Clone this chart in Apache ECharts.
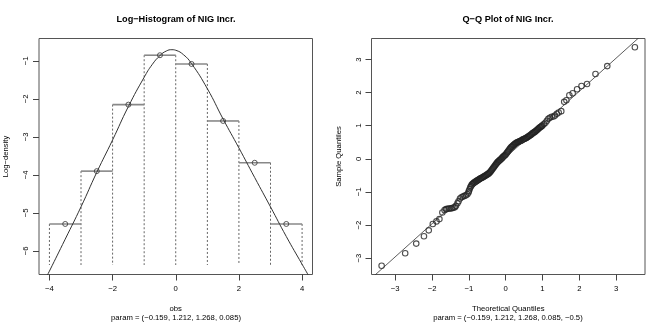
<!DOCTYPE html>
<html>
<head>
<meta charset="utf-8">
<script src="https://cdn.jsdelivr.net/npm/echarts@6/dist/echarts.min.js"></script>
<style>
  html, body { margin: 0; padding: 0; background: #fff; }
  #main { width: 665px; height: 333px; }
</style>
</head>
<body>
<div id="main"></div>
<script>
// histogram of log-density (bins of width 1)
var binLo = [-4, -3, -2, -1, 0, 1, 2, 3];
var binHi = [-3, -2, -1, 0, 1, 2, 3, 4];
var binMid = [-3.5, -2.5, -1.5, -0.5, 0.5, 1.5, 2.5, 3.5];
var binLogDens = [-5.29, -3.90, -2.15, -0.85, -1.08, -2.58, -3.68, -5.29];
var histBase = -6.37;

// fitted NIG log-density curve
var curveX = [-4.2, -4.0, -3.5, -3.0, -2.5, -2.0, -1.5, -1.0, -0.75, -0.5, -0.3, -0.12, 0.0, 0.25, 0.5, 1.0, 1.5, 2.0, 2.5, 3.0, 3.5, 4.0, 4.2];
var curveY = [-6.86, -6.53, -5.69, -4.84, -3.93, -3.08, -2.2, -1.43, -1.10, -0.86, -0.74, -0.705, -0.72, -0.84, -1.07, -1.73, -2.53, -3.29, -4.07, -4.84, -5.62, -6.35, -6.64];

// Q-Q plot points (theoretical, sample)
var qqTheo = [-3.37, -2.73, -2.43, -2.22, -2.09, -1.98, -1.88, -1.80, -1.72, -1.66, -1.62, -1.58, -1.54, -1.50, -1.46, -1.42, -1.38, -1.35, -1.31, -1.28, -1.24, -1.20, -1.16, -1.12, -1.08, -1.04, -1.01,
  -1.00, -0.98, -0.96, -0.94, -0.92, -0.90, -0.88, -0.86, -0.84, -0.82, -0.80, -0.78, -0.76, -0.74, -0.72, -0.70, -0.68, -0.66, -0.64, -0.62,
  -0.60, -0.58, -0.56, -0.54, -0.52, -0.50, -0.48, -0.46, -0.44, -0.42, -0.40, -0.38, -0.36, -0.34, -0.32, -0.30, -0.28, -0.26, -0.24, -0.22,
  -0.20, -0.18, -0.16, -0.14, -0.12, -0.10, -0.08, -0.06, -0.04, -0.02, 0.00, 0.02, 0.04, 0.06, 0.08, 0.10, 0.12, 0.14, 0.16, 0.18,
  0.20, 0.22, 0.24, 0.26, 0.28, 0.30, 0.32, 0.34, 0.36, 0.38, 0.40, 0.42, 0.44, 0.46, 0.48, 0.50, 0.52, 0.54, 0.56, 0.58,
  0.60, 0.62, 0.64, 0.66, 0.68, 0.70, 0.72, 0.74, 0.76, 0.78, 0.80, 0.82, 0.84, 0.86, 0.88, 0.90, 0.92, 0.94, 0.96, 0.98, 1.00,
  1.04, 1.08, 1.12, 1.16, 1.20, 1.25, 1.30, 1.34, 1.39, 1.44, 1.51, 1.59, 1.65, 1.73, 1.82, 1.94, 2.06, 2.21, 2.44, 2.76, 3.51];
var qqSample = [-3.23, -2.85, -2.56, -2.34, -2.16, -1.97, -1.89, -1.82, -1.62, -1.55, -1.52, -1.51, -1.50, -1.50, -1.49, -1.48, -1.46, -1.42, -1.34, -1.28, -1.20, -1.16, -1.14, -1.12, -1.10, -1.07, -1.02,
  -0.97, -0.92, -0.86, -0.82, -0.78, -0.76, -0.74, -0.72, -0.71, -0.69, -0.68, -0.66, -0.65, -0.63, -0.62, -0.60, -0.59, -0.58, -0.57, -0.55,
  -0.54, -0.53, -0.52, -0.50, -0.49, -0.47, -0.46, -0.44, -0.42, -0.40, -0.37, -0.34, -0.31, -0.28, -0.25, -0.22, -0.19, -0.16, -0.13, -0.10,
  -0.08, -0.06, -0.04, -0.02, 0.00, 0.02, 0.05, 0.07, 0.09, 0.11, 0.13, 0.16, 0.19, 0.22, 0.25, 0.28, 0.31, 0.34, 0.36, 0.38,
  0.40, 0.42, 0.44, 0.46, 0.47, 0.49, 0.50, 0.51, 0.52, 0.53, 0.54, 0.55, 0.56, 0.58, 0.59, 0.60, 0.61, 0.62, 0.63, 0.65,
  0.66, 0.68, 0.69, 0.71, 0.72, 0.74, 0.76, 0.78, 0.79, 0.81, 0.82, 0.84, 0.86, 0.88, 0.90, 0.92, 0.94, 0.96, 0.97, 0.99, 1.01,
  1.05, 1.09, 1.15, 1.21, 1.24, 1.27, 1.28, 1.31, 1.36, 1.40, 1.44, 1.72, 1.77, 1.92, 1.98, 2.10, 2.20, 2.26, 2.56, 2.80, 3.37];
var qqLineX = [-3.75, 3.85];
var qqLineY = [-3.71, 3.89];

// tick labels
var histXTicks = [-4, -2, 0, 2, 4];
var histYTicks = [-6, -5, -4, -3, -2, -1];
var qqXTicks = [-3, -2, -1, 0, 1, 2, 3];
var qqYTicks = [-3, -2, -1, 0, 1, 2, 3];

var FONT = '"Liberation Sans", Arial, Helvetica, sans-serif';
var fmt = function (v) { return String(v).replace('-', '\u2212'); };

function zip(a, b) {
    var out = [];
    for (var i = 0; i < a.length; i++) out.push([a[i], b[i]]);
    return out;
}

// dashed break lines go up to the taller neighbouring bar
var edgeData = [];
for (var i = 0; i <= binLo.length; i++) {
    var left = i > 0 ? binLogDens[i - 1] : -Infinity;
    var right = i < binLo.length ? binLogDens[i] : -Infinity;
    var e = i < binLo.length ? binLo[i] : binHi[i - 1];
    edgeData.push([e, Math.max(left, right)]);
}
var barData = [];
for (var j = 0; j < binLo.length; j++) barData.push([binLo[j], binHi[j], binLogDens[j]]);

function axisX(idx, min, max, ticks, name) {
    return {
        type: 'value', gridIndex: idx, min: min, max: max,
        name: name, nameLocation: 'middle', nameGap: 30,
        nameTextStyle: { color: '#000', fontSize: 7.7, fontFamily: FONT },
        axisLine: { show: false, onZero: false },
        axisTick: { show: true, length: 6, customValues: ticks, lineStyle: { color: '#444' } },
        axisLabel: { customValues: ticks, formatter: fmt, margin: 10, color: '#000', fontSize: 7.7, fontFamily: FONT },
        splitLine: { show: false }
    };
}
function axisY(idx, min, max, ticks, name) {
    return {
        type: 'value', gridIndex: idx, min: min, max: max,
        name: name, nameLocation: 'middle', nameGap: 29,
        nameTextStyle: { color: '#000', fontSize: 7.7, fontFamily: FONT },
        axisLine: { show: false, onZero: false },
        axisTick: { show: true, length: 6, customValues: ticks, lineStyle: { color: '#444' } },
        axisLabel: { customValues: ticks, formatter: fmt, rotate: 90, margin: 9, color: '#000', fontSize: 7.7, fontFamily: FONT },
        splitLine: { show: false }
    };
}

var myChart = echarts.init(document.getElementById('main'));

var option = {
    animation: false,
    backgroundColor: '#fff',
    title: [
        { text: 'Log\u2212Histogram of NIG Incr.', left: 176, top: 15, textAlign: 'center', padding: 0,
          textStyle: { fontSize: 9.2, fontWeight: 'bold', color: '#000', fontFamily: FONT } },
        { text: 'Q\u2212Q Plot of NIG Incr.', left: 508, top: 15, textAlign: 'center', padding: 0,
          textStyle: { fontSize: 9.2, fontWeight: 'bold', color: '#000', fontFamily: FONT } },
        { text: 'param = (\u22120.159, 1.212, 1.268, 0.085)', left: 176, top: 314, textAlign: 'center', padding: 0,
          textStyle: { fontSize: 7.7, fontWeight: 'normal', color: '#000', fontFamily: FONT } },
        { text: 'param = (\u22120.159, 1.212, 1.268, 0.085, \u22120.5)', left: 508, top: 314, textAlign: 'center', padding: 0,
          textStyle: { fontSize: 7.7, fontWeight: 'normal', color: '#000', fontFamily: FONT } }
    ],
    grid: [
        { left: 39, top: 38.5, width: 273.5, height: 236, show: true, borderColor: '#555', borderWidth: 1, backgroundColor: 'transparent' },
        { left: 371.5, top: 38.5, width: 273.5, height: 236, show: true, borderColor: '#555', borderWidth: 1, backgroundColor: 'transparent' }
    ],
    xAxis: [
        axisX(0, -4.33, 4.33, histXTicks, 'obs'),
        axisX(1, -3.645, 3.785, qqXTicks, 'Theoretical Quantiles')
    ],
    yAxis: [
        axisY(0, -6.62, -0.41, histYTicks, 'Log\u2212density'),
        axisY(1, -3.494, 3.634, qqYTicks, 'Sample Quantiles')
    ],
    series: [
        {
            type: 'custom', xAxisIndex: 0, yAxisIndex: 0,
            data: edgeData,
            renderItem: function (params, api) {
                var top = api.coord([api.value(0), api.value(1)]);
                var bot = api.coord([api.value(0), histBase]);
                return { type: 'line', shape: { x1: top[0], y1: top[1], x2: bot[0], y2: bot[1] },
                         style: { stroke: '#555', lineWidth: 0.9, lineDash: [2, 2] } };
            }
        },
        {
            type: 'custom', xAxisIndex: 0, yAxisIndex: 0,
            data: barData,
            encode: { x: [0, 1], y: 2 },
            renderItem: function (params, api) {
                var p1 = api.coord([api.value(0), api.value(2)]);
                var p2 = api.coord([api.value(1), api.value(2)]);
                return { type: 'line', shape: { x1: p1[0], y1: p1[1], x2: p2[0], y2: p2[1] },
                         style: { stroke: '#888', lineWidth: 1.6 } };
            }
        },
        {
            type: 'line', xAxisIndex: 0, yAxisIndex: 0,
            data: zip(curveX, curveY), smooth: true, showSymbol: false, clip: true,
            lineStyle: { color: '#333', width: 1 }
        },
        {
            type: 'scatter', xAxisIndex: 0, yAxisIndex: 0,
            data: zip(binMid, binLogDens), symbol: 'circle', symbolSize: 5,
            itemStyle: { color: 'transparent', borderColor: '#333', borderWidth: 1 }
        },
        {
            type: 'line', xAxisIndex: 1, yAxisIndex: 1,
            data: zip(qqLineX, qqLineY), showSymbol: false, clip: true,
            lineStyle: { color: '#333', width: 0.8 }
        },
        {
            type: 'scatter', xAxisIndex: 1, yAxisIndex: 1,
            data: zip(qqTheo, qqSample), symbol: 'circle', symbolSize: 5.5,
            itemStyle: { color: 'transparent', borderColor: '#222', borderWidth: 1.1 }
        }
    ]
};

myChart.setOption(option);
</script>
</body>
</html>
